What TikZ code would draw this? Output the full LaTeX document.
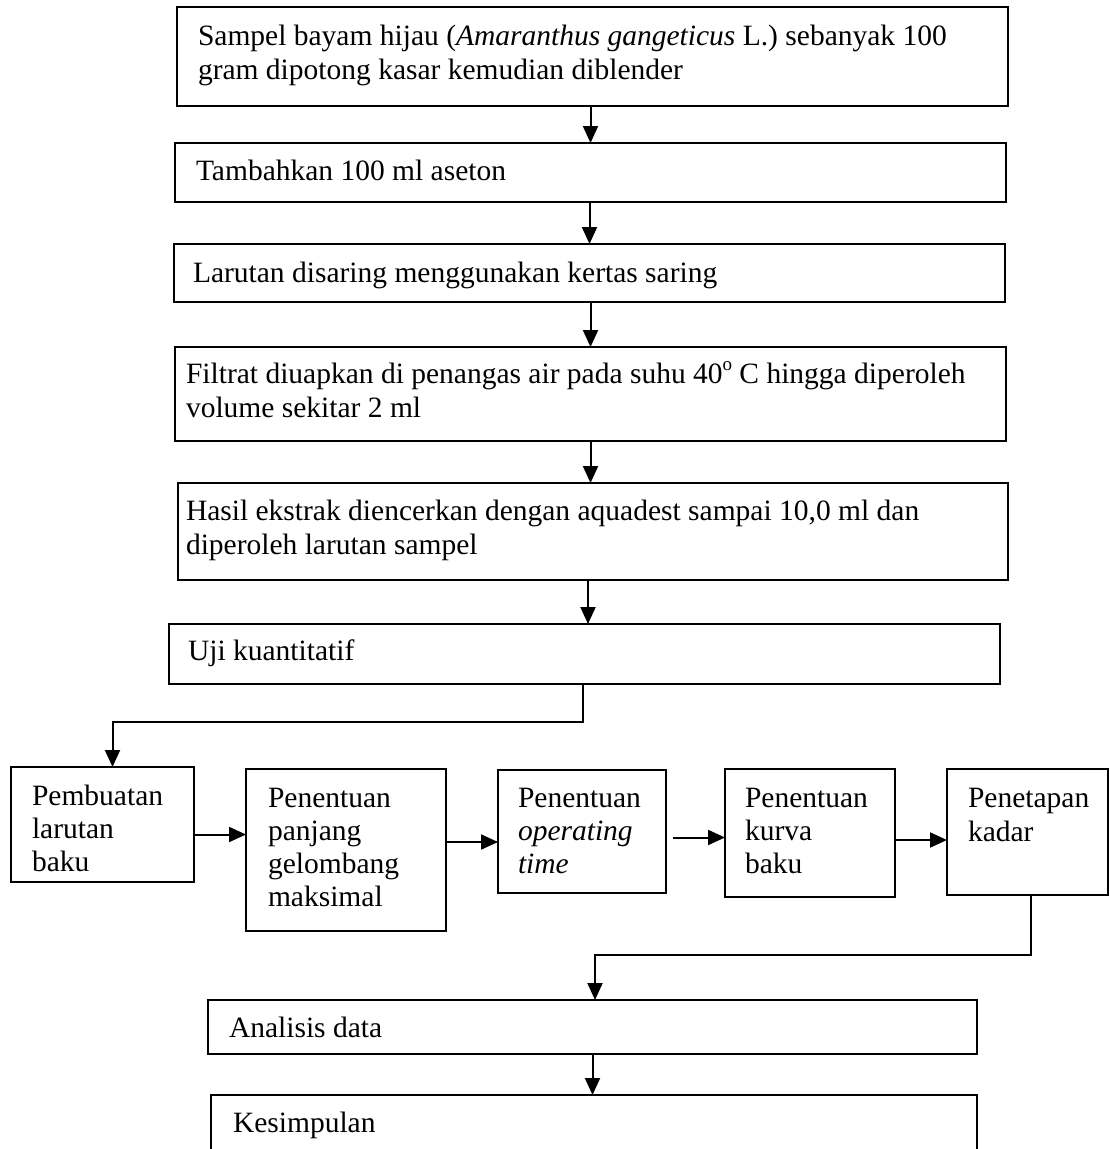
\documentclass[tikz,border=0pt]{standalone}
\usepackage{fontspec}
\setmainfont{Liberation Serif}
\usetikzlibrary{arrows.meta,calc}
\newcommand{\supo}{\raisebox{0.42em}{\fontsize{19}{19}\selectfont o}}
\tikzset{
  box/.style={draw, line width=2pt, anchor=north west, inner sep=0pt, outer sep=0pt},
  lbl/.style={anchor=base west, inner sep=0pt, outer sep=0pt, font=\fontsize{29.5}{33}\selectfont},
  arr/.style={line width=2pt, -{Triangle[width=15pt,length=17pt]}},
}
\begin{document}
\begin{tikzpicture}[x=1pt,y=-1pt]
\useasboundingbox (0,0) rectangle (1110,1149);
\clip (0,0) rectangle (1110,1149);
% boxes
\node[box, minimum width=831pt, minimum height=99pt] (b1) at (177,7) {};
\node[box, minimum width=831pt, minimum height=59pt] (b2) at (175,143) {};
\node[box, minimum width=831pt, minimum height=58pt] (b3) at (174,244) {};
\node[box, minimum width=831pt, minimum height=94pt] (b4) at (175,347) {};
\node[box, minimum width=830pt, minimum height=97pt] (b5) at (178,483) {};
\node[box, minimum width=831pt, minimum height=60pt] (b6) at (169,624) {};
\node[box, minimum width=183pt, minimum height=115pt] (b7) at (11,767) {};
\node[box, minimum width=200pt, minimum height=162pt] (b8) at (246,769) {};
\node[box, minimum width=168pt, minimum height=123pt] (b9) at (498,770) {};
\node[box, minimum width=170pt, minimum height=128pt] (b10) at (725,769) {};
\node[box, minimum width=161pt, minimum height=126pt] (b11) at (947,769) {};
\node[box, minimum width=769pt, minimum height=54pt] (b12) at (208,1000) {};
\node[box, minimum width=766pt, minimum height=85pt] (b13) at (211,1095) {};
% labels
\node[lbl] (t1a) at (198,45) {Sampel bayam hijau (\textit{Amaranthus gangeticus} L.) sebanyak 100};
\node[lbl] (t1b) at (198,79) {gram dipotong kasar kemudian diblender};
\node[lbl] (t2) at (196,180) {Tambahkan 100 ml aseton};
\node[lbl] (t3) at (193,282) {Larutan disaring menggunakan kertas saring};
\node[lbl] (t4a) at (186,383) {Filtrat diuapkan di penangas air pada suhu 40\supo{} C hingga diperoleh};
\node[lbl] (t4b) at (186,417) {volume sekitar 2 ml};
\node[lbl] (t5a) at (186,520) {Hasil ekstrak diencerkan dengan aquadest sampai 10,0 ml dan};
\node[lbl] (t5b) at (186,554) {diperoleh larutan sampel};
\node[lbl] (t6) at (188,660) {Uji kuantitatif};
\node[lbl] (t7a) at (32,805) {Pembuatan};
\node[lbl] (t7b) at (32,838) {larutan};
\node[lbl] (t7c) at (32,871) {baku};
\node[lbl] (t8a) at (268,807) {Penentuan};
\node[lbl] (t8b) at (268,840) {panjang};
\node[lbl] (t8c) at (268,873) {gelombang};
\node[lbl] (t8d) at (268,906) {maksimal};
\node[lbl] (t9a) at (518,807) {Penentuan};
\node[lbl] (t9b) at (518,840) {\textit{operating}};
\node[lbl] (t9c) at (518,873) {\textit{time}};
\node[lbl] (t10a) at (745,807) {Penentuan};
\node[lbl] (t10b) at (745,840) {kurva};
\node[lbl] (t10c) at (745,873) {baku};
\node[lbl] (t11a) at (968,807) {Penetapan};
\node[lbl] (t11b) at (968,841) {kadar};
\node[lbl] (t12) at (229,1037) {Analisis data};
\node[lbl] (t13) at (233,1132) {Kesimpulan};
% connectors
\draw[arr] (b1.south -| b2.north) -- (b2.north);
\draw[arr] (b2.south -| b3.north) -- (b3.north);
\draw[arr] (b3.south -| b4.north) -- (b4.north);
\draw[arr] (b4.south) -- (b4.south |- b5.north);
\draw[arr] ([xshift=-5pt]b5.south) -- ([xshift=-5pt]b5.south |- b6.north);
\draw[arr] ([xshift=-1.5pt]b6.south) -- ++(0,38) -| ([xshift=10pt]b7.north);
\draw[arr] ([yshift=-10pt]b7.east) -- ([yshift=-10pt]b7.east -| b8.west);
\draw[arr] ([yshift=8pt]b8.east) -- ([yshift=8pt]b8.east -| b9.west);
\draw[arr] ([xshift=7pt,yshift=-6pt]b9.east) -- ([yshift=-6pt]b9.east -| b10.west);
\draw[arr] ([yshift=-7pt]b10.east) -- ([yshift=-7pt]b10.east -| b11.west);
\draw[arr] ([xshift=3.5pt]b11.south) -- ++(0,60) -| ([xshift=2.5pt]b12.north);
\draw[arr] (b12.south) -- (b12.south |- b13.north);
\end{tikzpicture}
\end{document}
